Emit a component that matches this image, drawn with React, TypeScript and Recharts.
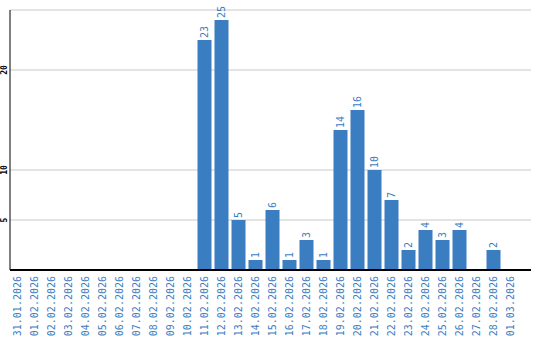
import React from "react";
import { BarChart, Bar, XAxis, YAxis, CartesianGrid, LabelList } from "recharts";

const categories = [
  "31.01.2026", "01.02.2026", "02.02.2026", "03.02.2026", "04.02.2026",
  "05.02.2026", "06.02.2026", "07.02.2026", "08.02.2026", "09.02.2026",
  "10.02.2026", "11.02.2026", "12.02.2026", "13.02.2026", "14.02.2026",
  "15.02.2026", "16.02.2026", "17.02.2026", "18.02.2026", "19.02.2026",
  "20.02.2026", "21.02.2026", "22.02.2026", "23.02.2026", "24.02.2026",
  "25.02.2026", "26.02.2026", "27.02.2026", "28.02.2026", "01.03.2026",
];

const values: (number | null)[] = [
  null, null, null, null, null, null, null, null, null, null,
  null, 23, 25, 5, 1, 6, 1, 3, 1, 14,
  16, 10, 7, 2, 4, 3, 4, null, 2, null,
];

const yTicks = [5, 10, 20];
const yDomain = [0, 26];

const data = categories.map((c, i) => ({ name: c, value: values[i] }));

const BLUE = "#3b7dc1";
const MONO = "'DejaVu Sans Mono', monospace";

const XTick = (props: any) => {
  const { x, y, payload } = props;
  return (
    <text
      transform={`translate(${x},${y}) rotate(-90)`}
      textAnchor="end"
      dominantBaseline="central"
      fill={BLUE}
      fontFamily={MONO}
      fontSize={10}
    >
      {payload.value}
    </text>
  );
};

const YTick = (props: any) => {
  const { y, payload } = props;
  return (
    <text
      transform={`translate(4,${y}) rotate(-90)`}
      textAnchor="middle"
      dominantBaseline="central"
      fill="#000"
      fontFamily={MONO}
      fontWeight="bold"
      fontSize={8}
    >
      {payload.value}
    </text>
  );
};

const ValueLabel = (props: any) => {
  const { x, y, width, value } = props;
  if (value === null || value === undefined || value === 0) return null;
  const cx = Number(x) + Number(width) / 2;
  const ty = Number(y) - 2;
  return (
    <text
      transform={`translate(${cx},${ty}) rotate(-90)`}
      textAnchor="start"
      dominantBaseline="central"
      fill={BLUE}
      fontFamily={MONO}
      fontSize={10}
    >
      {value}
    </text>
  );
};

export default function App() {
  return (
    <div style={{ position: "absolute", left: 0, top: 0, width: 540, height: 340 }}>
      <BarChart
        width={540}
        height={340}
        data={data}
        margin={{ top: 10, right: 9, bottom: 0, left: 0 }}
      >
        <CartesianGrid horizontal vertical={false} stroke="#c8c8c8" strokeDasharray="" />
        <XAxis
          dataKey="name"
          interval={0}
          height={70}
          tickLine={false}
          tickMargin={0}
          tick={<XTick />}
          axisLine={{ stroke: "#000", strokeWidth: 2 }}
          padding={{ left: -1.5, right: 12.5 }}
        />
        <YAxis
          width={10}
          domain={yDomain}
          ticks={yTicks}
          tickLine={false}
          tickMargin={0}
          tick={<YTick />}
          axisLine={{ stroke: "#000", strokeWidth: 1 }}
          allowDataOverflow
        />
        <Bar dataKey="value" fill={BLUE} barSize={14} isAnimationActive={false}>
          <LabelList dataKey="value" content={<ValueLabel />} />
        </Bar>
      </BarChart>
    </div>
  );
}
